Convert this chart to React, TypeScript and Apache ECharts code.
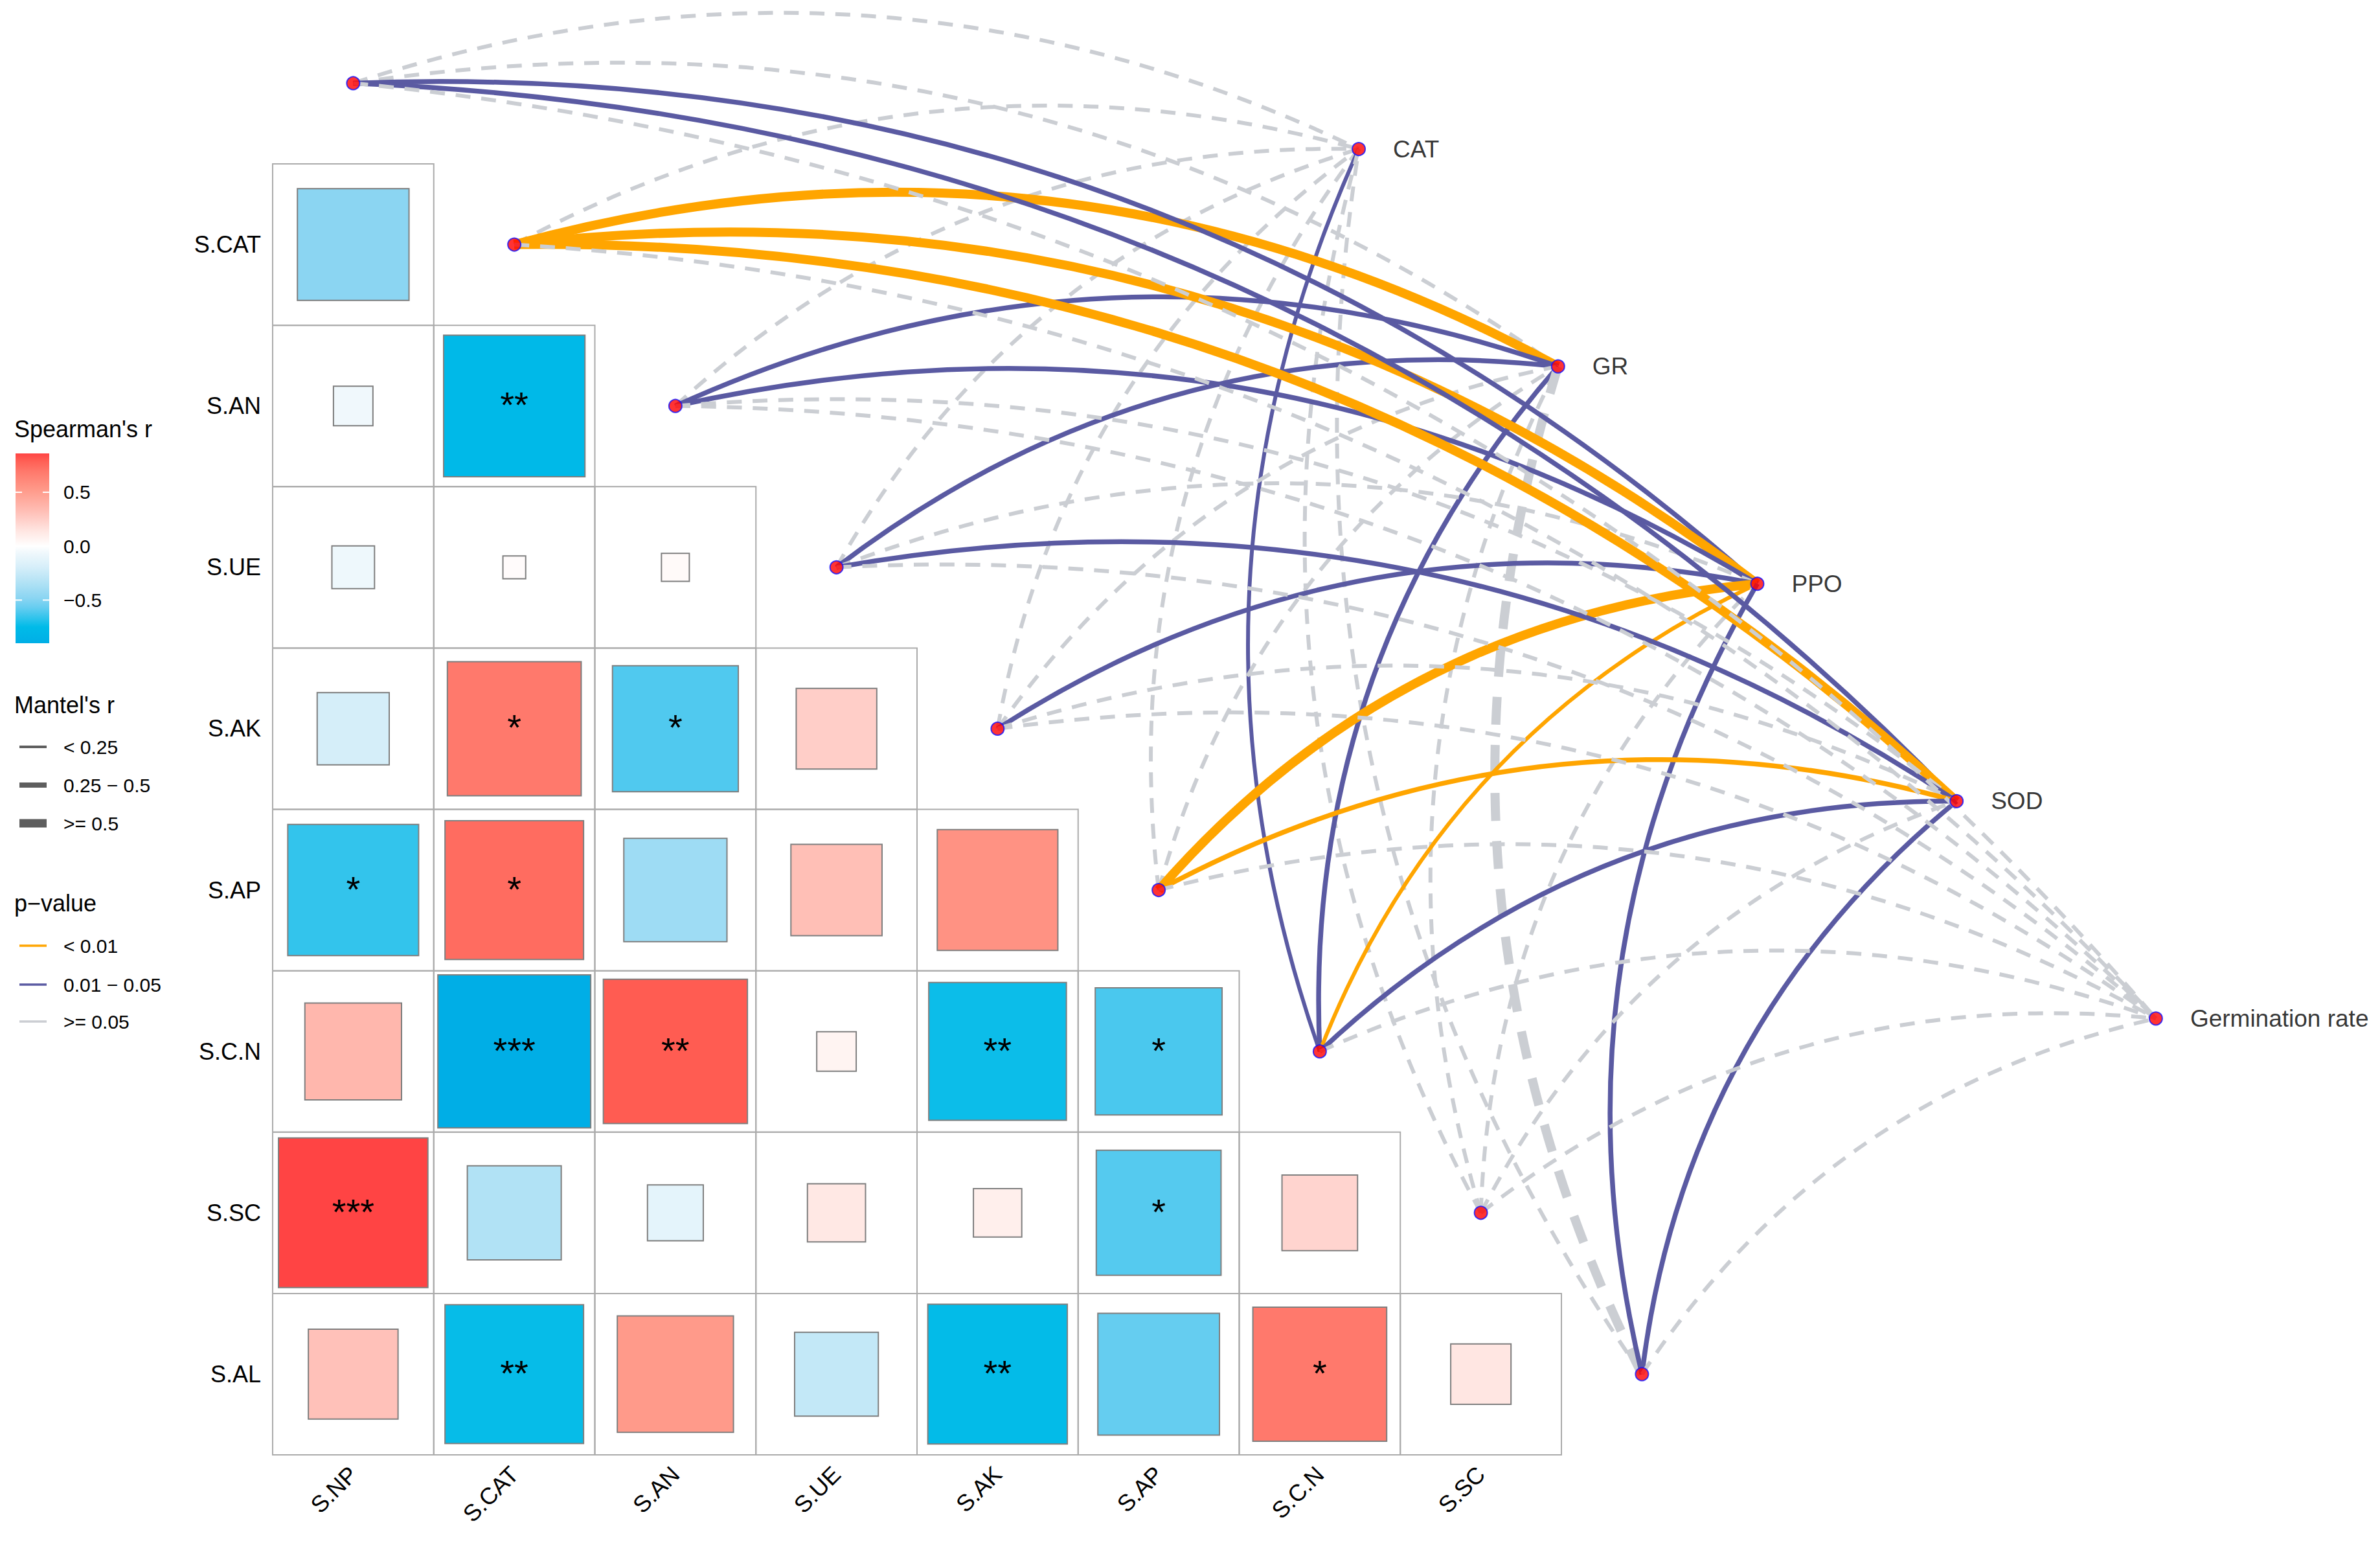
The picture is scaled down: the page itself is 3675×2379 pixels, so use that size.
import React, { useEffect, useRef } from 'react';
import * as echarts from 'echarts';

// ---------------- data ----------------
const colLabels = ['S.NP', 'S.CAT', 'S.AN', 'S.UE', 'S.AK', 'S.AP', 'S.C.N', 'S.SC'];
const rowLabels = ['S.CAT', 'S.AN', 'S.UE', 'S.AK', 'S.AP', 'S.C.N', 'S.SC', 'S.AL'];

// Spearman's r, lower triangle, one array per row (columns S.NP ...)
const spearmanR = [
  [-0.48],
  [-0.06, -0.77],
  [-0.07, 0.02, 0.03],
  [-0.2, 0.69, -0.61, 0.25],
  [-0.66, 0.74, -0.41, 0.32, 0.56],
  [0.36, -0.9, 0.8, 0.06, -0.73, -0.62],
  [0.86, -0.34, -0.12, 0.13, 0.09, -0.6, 0.22],
  [0.31, -0.74, 0.52, -0.27, -0.75, -0.57, 0.69, 0.14],
];
const spearmanSig = [
  [''],
  ['', '**'],
  ['', '', ''],
  ['', '*', '*', ''],
  ['*', '*', '', '', ''],
  ['', '***', '**', '', '**', '*'],
  ['***', '', '', '', '', '*', ''],
  ['', '**', '', '', '**', '', '*', ''],
];

const envNames = ['S.NP', 'S.CAT', 'S.AN', 'S.UE', 'S.AK', 'S.AP', 'S.C.N', 'S.SC', 'S.AL'];
const specNames = ['CAT', 'GR', 'PPO', 'SOD', 'Germination rate'];

const pLevels = ['< 0.01', '0.01 \u2212 0.05', '>= 0.05'];
const rLevels = ['< 0.25', '0.25 \u2212 0.5', '>= 0.5'];

// Mantel test classes: rows = envNames, cols = specNames
const mantelP = [
  [2, 2, 1, 1, 2],
  [2, 0, 0, 0, 2],
  [2, 1, 1, 2, 2],
  [2, 1, 2, 1, 2],
  [2, 2, 1, 2, 2],
  [2, 2, 0, 0, 2],
  [1, 1, 0, 1, 2],
  [2, 2, 2, 2, 2],
  [2, 2, 1, 1, 2],
];
const mantelR = [
  [0, 0, 1, 1, 0],
  [0, 2, 2, 2, 0],
  [0, 1, 1, 0, 0],
  [0, 1, 0, 1, 0],
  [0, 0, 1, 0, 0],
  [0, 0, 2, 1, 0],
  [0, 1, 0, 1, 0],
  [0, 0, 0, 0, 0],
  [0, 2, 1, 1, 0],
];

const colorTicks = [0.5, 0.0, -0.5];
const colorRange = [-0.9, 0.86];

// ---------------- layout & style ----------------
const W = 3675;
const H = 2379;
const FONT = 'Liberation Sans, Arial, Helvetica, sans-serif';
const GRID = { left: 421, top: 253, width: 1990, height: 1993 };
const SPEC_START = [6.742, -0.092];
const SPEC_STEP = [1.237, 1.347];
const CURVE = 0.2;
const P_COLORS = ['#FFA500', '#5A5AA2', '#CBCED3'];
const R_WIDTHS = [6, 7.5, 14];

const FILL_STOPS: [number, string][] = [
  [-0.9, '#00AEE6'],
  [-0.75, '#00BBE8'],
  [-0.66, '#33C4EC'],
  [-0.57, '#66CDF0'],
  [-0.48, '#8BD5F2'],
  [-0.34, '#B1E2F5'],
  [-0.2, '#D5EEF9'],
  [-0.06, '#F0F8FC'],
  [0, '#FFFFFF'],
  [0.06, '#FFF4F2'],
  [0.14, '#FFE6E2'],
  [0.24, '#FFD0CA'],
  [0.33, '#FFBDB4'],
  [0.52, '#FF9A8A'],
  [0.69, '#FF796C'],
  [0.8, '#FF5C52'],
  [0.86, '#FF4444'],
];

function hexToRgb(h: string) {
  const n = parseInt(h.slice(1), 16);
  return [(n >> 16) & 255, (n >> 8) & 255, n & 255];
}
function fillColor(v: number) {
  const s = FILL_STOPS;
  if (v <= s[0][0]) return s[0][1];
  for (let k = 1; k < s.length; k++) {
    if (v <= s[k][0]) {
      const t = (v - s[k - 1][0]) / (s[k][0] - s[k - 1][0]);
      const a = hexToRgb(s[k - 1][1]);
      const b = hexToRgb(s[k][1]);
      const c = a.map((x, i) => Math.round(x + (b[i] - x) * t));
      return `rgb(${c[0]},${c[1]},${c[2]})`;
    }
  }
  return s[s.length - 1][1];
}

export default function App() {
  const ref = useRef<HTMLDivElement>(null);

  useEffect(() => {
    if (!ref.current) return;
    const chart = echarts.init(ref.current, undefined, { renderer: 'svg' });

    const heatCells: { col: number; row: number; r: number; sig: string }[] = [];
    spearmanR.forEach((rowVals, i) =>
      rowVals.forEach((r, j) => heatCells.push({ col: j, row: i, r, sig: spearmanSig[i][j] }))
    );

    const samples: string[] = [];
    const nSamp = Math.round((colorRange[1] - colorRange[0]) / 0.02);
    for (let k = 0; k <= nSamp; k++) samples.push(fillColor(colorRange[0] + k * 0.02));

    const linkItems: number[][] = [];
    specNames.forEach((_, j) =>
      envNames.forEach((__, i) => {
        linkItems.push([
          i + 0.5,
          i - 0.5,
          SPEC_START[0] + j * SPEC_STEP[0],
          SPEC_START[1] + j * SPEC_STEP[1],
          mantelP[i][j],
          mantelR[i][j],
        ]);
      })
    );

    const envPoints = envNames.map((n, i) => ({ name: n, value: [i + 0.5, i - 0.5] }));
    const specPoints = specNames.map((n, j) => ({
      name: n,
      value: [SPEC_START[0] + j * SPEC_STEP[0], SPEC_START[1] + j * SPEC_STEP[1]],
    }));

    // ---------- legend graphics ----------
    const legendX = 22;
    const barX = 24;
    const barTop = 700;
    const barH = 293;
    const barW = 52;
    const labelX = 98;
    const span = colorRange[1] - colorRange[0];
    const gradStops = FILL_STOPS.map(([v, c]) => ({ offset: (colorRange[1] - v) / span, color: c }));
    gradStops.sort((a, b) => a.offset - b.offset);
    const graphics: any[] = [];
    const titleStyle = { fontSize: 36, fontFamily: FONT, fill: '#000' };
    const labStyle = { fontSize: 30, fontFamily: FONT, fill: '#000', verticalAlign: 'middle' };
    graphics.push({ type: 'text', left: legendX, top: 644, style: { text: "Spearman's r", ...titleStyle } });
    graphics.push({
      type: 'rect', shape: { x: barX, y: barTop, width: barW, height: barH },
      style: { fill: new echarts.graphic.LinearGradient(0, 0, 0, 1, gradStops) },
    });
    colorTicks.forEach((t) => {
      const y = barTop + ((colorRange[1] - t) / span) * barH;
      graphics.push({ type: 'line', shape: { x1: barX, y1: y, x2: barX + 10, y2: y }, style: { stroke: '#fff', lineWidth: 2 } });
      graphics.push({ type: 'line', shape: { x1: barX + barW - 10, y1: y, x2: barX + barW, y2: y }, style: { stroke: '#fff', lineWidth: 2 } });
      graphics.push({
        type: 'text', x: labelX, y,
        style: { text: t === 0 ? '0.0' : (t < 0 ? '\u2212' : '') + Math.abs(t).toFixed(1), ...labStyle },
      });
    });
    graphics.push({ type: 'text', left: legendX, top: 1070, style: { text: "Mantel's r", ...titleStyle } });
    const mantelYs = [1153, 1212, 1271];
    rLevels.forEach((lab, k) => {
      graphics.push({ type: 'line', shape: { x1: 30, y1: mantelYs[k], x2: 72, y2: mantelYs[k] }, style: { stroke: '#5E5E5E', lineWidth: [4, 8, 13][k] } });
      graphics.push({ type: 'text', x: labelX, y: mantelYs[k], style: { text: lab, ...labStyle } });
    });
    graphics.push({ type: 'text', left: legendX, top: 1376, style: { text: 'p\u2212value', ...titleStyle } });
    const pYs = [1460, 1520, 1577];
    pLevels.forEach((lab, k) => {
      graphics.push({ type: 'line', shape: { x1: 30, y1: pYs[k], x2: 72, y2: pYs[k] }, style: { stroke: P_COLORS[k], lineWidth: 3.5 } });
      graphics.push({ type: 'text', x: labelX, y: pYs[k], style: { text: lab, ...labStyle } });
    });

    const option: any = {
      animation: false,
      backgroundColor: '#ffffff',
      textStyle: { fontFamily: FONT },
      grid: [
        { ...GRID, containLabel: false },
        { ...GRID, containLabel: false },
      ],
      xAxis: [
        {
          type: 'category', gridIndex: 0, data: colLabels, position: 'bottom',
          axisLine: { show: false }, axisTick: { show: false }, splitLine: { show: false },
          axisLabel: { rotate: 45, margin: 24, interval: 0, fontSize: 36, color: '#000', fontFamily: FONT },
        },
        { type: 'value', gridIndex: 1, min: 0, max: 8, show: false },
      ],
      yAxis: [
        {
          type: 'category', gridIndex: 0, data: rowLabels, inverse: true,
          axisLine: { show: false }, axisTick: { show: false }, splitLine: { show: false },
          axisLabel: { margin: 18, interval: 0, fontSize: 36, color: '#000', fontFamily: FONT },
        },
        { type: 'value', gridIndex: 1, min: 0, max: 8, inverse: true, show: false },
      ],
      visualMap: [
        {
          type: 'continuous', show: false, min: colorRange[0], max: colorRange[1],
          dimension: 2, seriesIndex: 0, inRange: { color: samples },
        },
      ],
      graphic: { elements: graphics },
      series: [
        {
          type: 'custom', name: 'spearman', xAxisIndex: 0, yAxisIndex: 0, z: 2, clip: false,
          data: heatCells.map((c) => [c.col, c.row, c.r]),
          renderItem: (params: any, api: any) => {
            const cell = heatCells[params.dataIndex];
            const c = api.coord([api.value(0), api.value(1)]);
            const sz = api.size([1, 1]);
            const w = sz[0];
            const h = sz[1];
            const side = Math.sqrt(Math.abs(api.value(2)));
            const children: any[] = [
              {
                type: 'rect',
                shape: { x: c[0] - w / 2, y: c[1] - h / 2, width: w, height: h },
                style: { fill: 'none', stroke: '#ABABAB', lineWidth: 2 },
              },
              {
                type: 'rect',
                shape: { x: c[0] - (w * side) / 2, y: c[1] - (h * side) / 2, width: w * side, height: h * side },
                style: { fill: api.visual('color'), stroke: '#7F7F7F', lineWidth: 2 },
              },
            ];
            if (cell.sig) {
              children.push({
                type: 'text',
                style: { text: cell.sig, x: c[0], y: c[1] - 2, align: 'center', verticalAlign: 'middle', fontSize: 56, fontFamily: FONT, fill: '#000' },
              });
            }
            return { type: 'group', children };
          },
        },
        {
          type: 'custom', name: 'mantel', xAxisIndex: 1, yAxisIndex: 1, z: 3, clip: false,
          data: linkItems,
          renderItem: (params: any, api: any) => {
            const p1 = api.coord([api.value(0), api.value(1)]);
            const p2 = api.coord([api.value(2), api.value(3)]);
            const pc = api.value(4);
            const rc = api.value(5);
            const dx = p2[0] - p1[0];
            const dy = p2[1] - p1[1];
            const cx = (p1[0] + p2[0]) / 2 + CURVE * dy;
            const cy = (p1[1] + p2[1]) / 2 - CURVE * dx;
            const w = R_WIDTHS[rc];
            return {
              type: 'bezierCurve',
              shape: { x1: p1[0], y1: p1[1], x2: p2[0], y2: p2[1], cpx1: cx, cpy1: cy },
              style: {
                fill: 'none', stroke: P_COLORS[pc], lineWidth: w,
                lineDash: pc === 2 ? [2.5 * w + 8, 1.8 * w + 6] : null, lineCap: 'butt',
              },
            };
          },
        },
        {
          type: 'scatter', name: 'env', xAxisIndex: 1, yAxisIndex: 1, z: 5, clip: false,
          symbol: 'circle', symbolSize: 20,
          itemStyle: { color: '#FF0000', borderColor: '#1010FF', borderWidth: 2 },
          data: envPoints,
        },
        {
          type: 'scatter', name: 'spec', xAxisIndex: 1, yAxisIndex: 1, z: 5, clip: false,
          symbol: 'circle', symbolSize: 20,
          itemStyle: { color: '#FF0000', borderColor: '#1010FF', borderWidth: 2 },
          label: { show: true, position: 'right', distance: 42, formatter: '{b}', fontSize: 37, color: '#000', fontFamily: FONT },
          data: specPoints,
        },
      ],
    };
    chart.setOption(option);
    return () => chart.dispose();
  }, []);

  return (
    <div
      ref={ref}
      style={{ position: 'fixed', left: 0, top: 0, width: W, height: H, background: '#fff' }}
    />
  );
}
